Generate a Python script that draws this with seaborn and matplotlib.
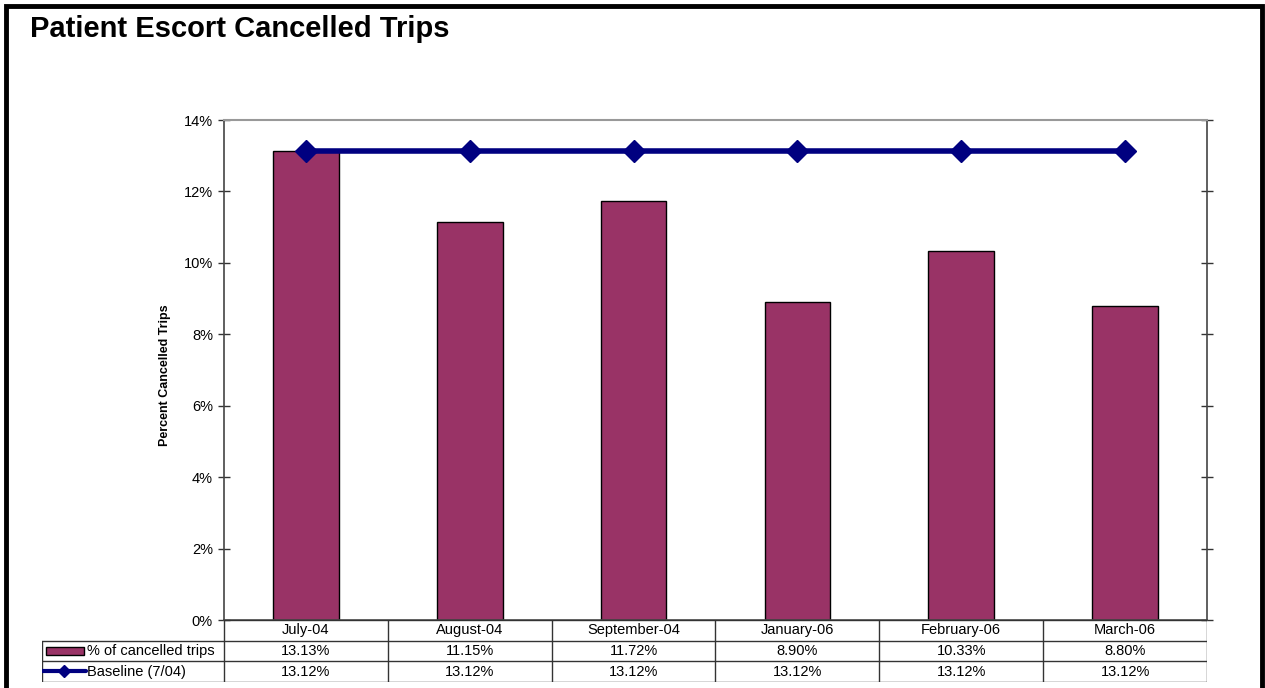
import numpy as np
import pandas as pd
import seaborn as sns
import matplotlib.pyplot as plt
from matplotlib.patches import Rectangle
from matplotlib.lines import Line2D

months = ['July-04', 'August-04', 'September-04', 'January-06', 'February-06', 'March-06']
cancelled = [13.13, 11.15, 11.72, 8.90, 10.33, 8.80]
baseline = [13.12, 13.12, 13.12, 13.12, 13.12, 13.12]
row_labels = ['% of cancelled trips', 'Baseline (7/04)']

bar_color = '#993366'
line_color = '#000080'

W, H = 1265, 688
sns.set_style('white')
plt.rcParams['font.family'] = ['Liberation Sans', 'DejaVu Sans']
plt.rcParams['text.color'] = 'black'
plt.rcParams['ytick.labelcolor'] = 'black'

fs = 10.5

fig = plt.figure(figsize=(W / 100, H / 100), dpi=100)

# outer frame
fig.add_artist(Rectangle((6 / W, -0.05), (1256) / W, 1.05 - 6 / H, transform=fig.transFigure,
                         fill=False, edgecolor='black', linewidth=3.5))
fig.text(30 / W, 1 - 29 / H, 'Patient Escort Cancelled Trips', fontsize=21, fontweight='bold',
         va='center', ha='left')

# main plot area
x0, x1, y0, y1 = 224, 1207, 120, 620
ax = fig.add_axes([x0 / W, 1 - y1 / H, (x1 - x0) / W, (y1 - y0) / H])
df = pd.DataFrame({'month': months, 'pct': cancelled})
sns.barplot(data=df, x='month', y='pct', color=bar_color, edgecolor='black', linewidth=1,
            width=0.4, saturation=1, ax=ax)
pos = np.arange(len(months))
ax.plot(pos, baseline, color=line_color, linewidth=4, marker='D', markersize=11, zorder=5)

ax.set_xlim(-0.5, len(months) - 0.5)
ax.set_ylim(0, 14)
ax.set_yticks(range(0, 15, 2))
ax.set_yticklabels([f'{v}%' for v in range(0, 15, 2)], fontsize=fs)
ax.set_xticks([])
ax.set_xlabel('')
ax.set_ylabel('')
ax.tick_params(axis='y', which='both', direction='inout', length=8, width=1, color='#333333',
               left=True, right=True, pad=4)
for side in ['left', 'right', 'bottom']:
    ax.spines[side].set_color('#444444')
    ax.spines[side].set_linewidth(1.2)
ax.spines['top'].set_color('#999999')
ax.spines['top'].set_linewidth(1.5)
fig.text(165 / W, 1 - 375 / H, 'Percent Cancelled Trips', rotation=90, fontsize=9,
         fontweight='bold', ha='center', va='center')

# data table below the plot
tx0, ty0, ty1 = 42, 620, 682
colw = (x1 - x0) / len(months)
lab_w = (x0 - tx0) / colw
tax = fig.add_axes([tx0 / W, 1 - ty1 / H, (x1 - tx0) / W, (ty1 - ty0) / H])
tax.set_xlim(-lab_w, len(months))
tax.set_ylim(0, 3)
tax.axis('off')
lc = '#333333'
lw = 1
# horizontal lines
tax.plot([0, len(months)], [3, 3], color=lc, lw=lw)
for yy in [2, 1, 0]:
    tax.plot([-lab_w, len(months)], [yy, yy], color=lc, lw=lw)
# vertical lines
for i in range(len(months) + 1):
    tax.plot([i, i], [0, 3], color=lc, lw=lw)
tax.plot([-lab_w, -lab_w], [0, 2], color=lc, lw=lw)

for i, m in enumerate(months):
    tax.text(i + 0.5, 2.5, m, ha='center', va='center', fontsize=fs)
    tax.text(i + 0.5, 1.5, f'{cancelled[i]:.2f}%', ha='center', va='center', fontsize=fs)
    tax.text(i + 0.5, 0.5, f'{baseline[i]:.2f}%', ha='center', va='center', fontsize=fs)

# legend keys in the row labels
key_l = -lab_w + 4 / colw
key_r = -lab_w + 42 / colw
tax.add_patch(Rectangle((key_l, 1.3), key_r - key_l, 0.4, facecolor=bar_color,
                        edgecolor='black', linewidth=1))
tax.add_line(Line2D([-lab_w, key_r + 2 / colw], [0.55, 0.55], color=line_color, lw=3))
tax.add_line(Line2D([(-lab_w + key_r + 2 / colw) / 2], [0.55], color=line_color, marker='D',
                    markersize=6, lw=0))
tax.text(key_r + 3 / colw, 1.5, row_labels[0], ha='left', va='center', fontsize=fs)
tax.text(key_r + 3 / colw, 0.5, row_labels[1], ha='left', va='center', fontsize=fs)

fig.savefig('out.png', dpi=100)
